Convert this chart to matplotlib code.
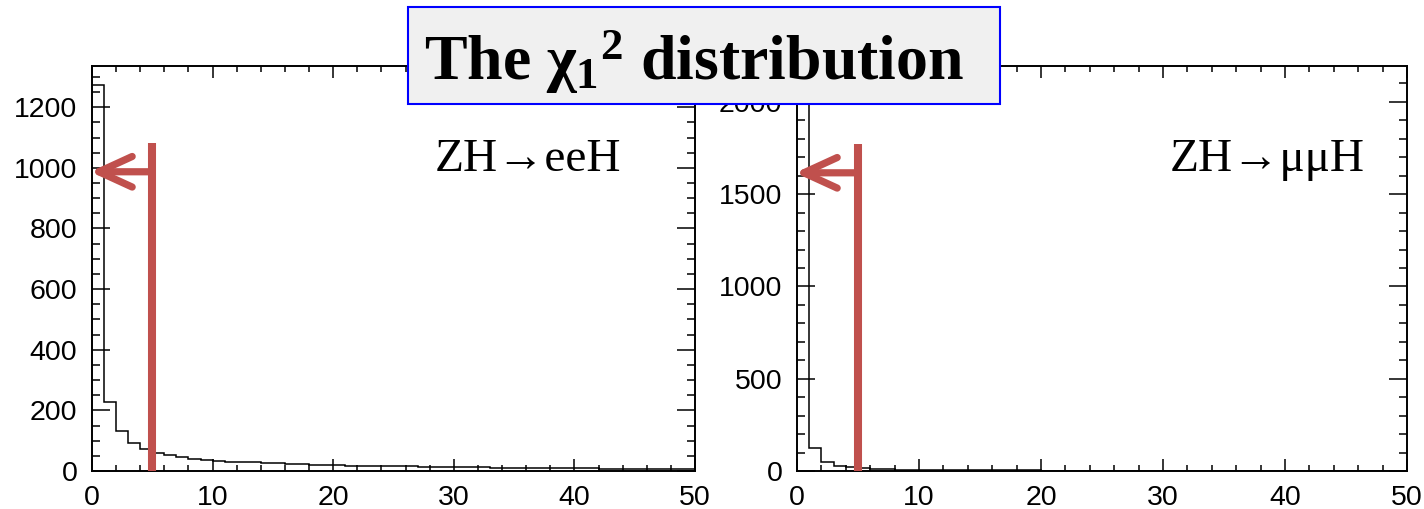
"""Two-panel chi2 distribution (ROOT-style histograms) with a cut arrow."""
import matplotlib.pyplot as plt
import numpy as np
from matplotlib.patches import FancyArrowPatch, Rectangle

plt.rcParams['font.family'] = ['Liberation Sans', 'DejaVu Sans']
plt.rcParams['mathtext.fontset'] = 'custom'
plt.rcParams['mathtext.rm'] = 'Liberation Serif:bold'
plt.rcParams['mathtext.it'] = 'Liberation Serif:bold'
plt.rcParams['mathtext.bf'] = 'Liberation Serif:bold'

# chi2 histograms, 1-unit bins from 0 to 50
chi2_ee = [1273, 229, 133, 92, 73, 60, 53, 45, 40, 36,
           33, 31, 29, 28, 26, 25, 23, 22, 21, 20,
           19, 18, 17, 17, 16, 15, 15, 14, 14, 13,
           13, 12, 12, 11, 11, 11, 10, 10, 10, 9,
           9, 9, 8, 8, 8, 8, 7, 7, 7, 7]
chi2_mm = [2090, 125, 50, 27, 20, 15, 12, 10, 8, 7,
           6, 5, 5, 4, 4, 4, 3, 3, 3, 3,
           2, 2, 2, 2, 2, 2, 2, 2, 1, 1,
           1, 1, 1, 1, 1, 1, 1, 1, 1, 1,
           1, 1, 1, 1, 1, 1, 1, 1, 1, 1]
x_range = (0, 50)
cut_value = 5

panels = [
    dict(counts=chi2_ee, ymax=1336, major=200, minor=50, label='ZH\u2192eeH',
         line_top=1082, arrow_y=987, label_x=0.569),
    dict(counts=chi2_mm, ymax=2195, major=500, minor=100, label='ZH\u2192\u03bc\u03bcH',
         line_top=1773, arrow_y=1616, label_x=0.611),
]
positions = [[0.0646, 0.0747, 0.4235, 0.7957], [0.5597, 0.0747, 0.4284, 0.7957]]

RED = '#c0504d'

fig = plt.figure(figsize=(14.24, 5.09), dpi=100)

for pos, p in zip(positions, panels):
    ax = fig.add_axes(pos)
    edges = np.arange(x_range[0], x_range[1] + 1, 1)
    ax.stairs(p['counts'], edges, color='black', lw=1.1, baseline=None)
    ax.set_xlim(*x_range)
    ax.set_ylim(0, p['ymax'])
    ax.set_xticks(np.arange(0, 51, 10))
    ax.set_xticks(np.arange(0, 51, 2), minor=True)
    ax.set_yticks(np.arange(0, p['ymax'], p['major']))
    ax.set_yticks(np.arange(0, p['ymax'], p['minor']), minor=True)
    ax.tick_params(which='both', direction='in', top=True, right=True, width=1.1)
    ax.tick_params(axis='x', which='major', length=8.6, pad=10, labelsize=20.5)
    ax.tick_params(axis='x', which='minor', length=4.3)
    ax.tick_params(axis='y', which='major', length=13, pad=10.5, labelsize=20.5)
    ax.tick_params(axis='y', which='minor', length=6)
    for s in ax.spines.values():
        s.set_linewidth(1.4)

    # cut line and arrow pointing towards the accepted region
    ax.plot([cut_value, cut_value], [0, p['line_top']], color=RED, lw=5.8,
            solid_capstyle='butt', clip_on=False, zorder=5)
    arr = FancyArrowPatch((cut_value, p['arrow_y']), (-0.15, p['arrow_y']),
                          arrowstyle='->,head_length=24,head_width=11',
                          mutation_scale=1, color=RED, lw=5.2,
                          capstyle='round', joinstyle='round',
                          clip_on=False, zorder=5, shrinkA=0, shrinkB=0)
    ax.add_patch(arr)

    ax.text(p['label_x'], 0.768, p['label'], transform=ax.transAxes,
            family=['Liberation Serif', 'DejaVu Serif'], fontsize=34,
            ha='left', va='center')

# title box
fig.patches.append(Rectangle((0.2865, 0.7957), 0.4157, 0.1906, transform=fig.transFigure,
                             facecolor='#f0f0f0', edgecolor='#0000ff', lw=1.5, zorder=10))
fig.text(0.4874, 0.842, r'The $\chi_1{}^2$ distribution', ha='center', va='baseline',
         family=['Liberation Serif', 'DejaVu Serif'], fontweight='bold', fontsize=46,
         zorder=11)

plt.savefig('out.png', dpi=100)
plt.close()
